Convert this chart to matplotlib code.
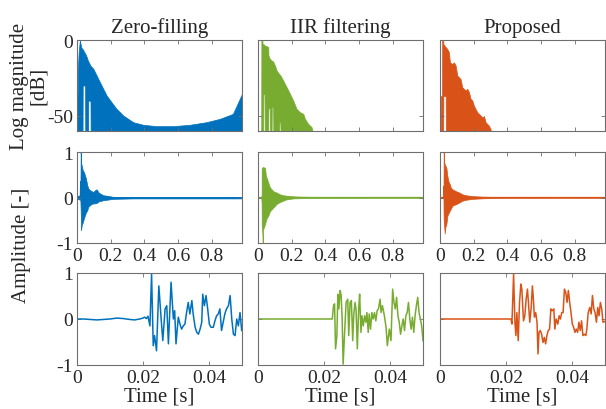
import numpy as np
import matplotlib
matplotlib.use("Agg")
import matplotlib.pyplot as plt

plt.rcParams['font.family'] = ['Liberation Serif', 'DejaVu Serif']
plt.rcParams['axes.unicode_minus'] = False

titles = ['Zero-filling', 'IIR filtering', 'Proposed']
colors = ['#0072BD', '#77AC30', '#D95319']

# ---- row 1: log magnitude envelope [dB] ----
zf_db_t = [0, 0.004, 0.005, 0.010, 0.017, 0.020, 0.026, 0.033, 0.034, 0.048, 0.049, 0.057, 0.066,
           0.067, 0.080, 0.081, 0.097, 0.117, 0.136, 0.156, 0.176, 0.205, 0.235, 0.275, 0.334,
           0.393, 0.472, 0.571, 0.670, 0.768, 0.848, 0.926, 0.98]
zf_db_hi = [-36, -36, -20, -8, 0, -2, -5, -6, -6, -9, -9, -11, -14, -14, -17, -17, -19, -23.5,
            -27.8, -32.2, -36.6, -41, -45.4, -49.8, -54.2, -55.9, -56.8, -56.8, -55.9, -54.2,
            -52, -48.7, -35.5]
zf_db_lo = [-60] * 8 + [-30] * 2 + [-60] * 3 + [-40] * 2 + [-60] * 18

iir_db_t = [0, 0.019, 0.020, 0.026, 0.027, 0.031, 0.032, 0.039, 0.040, 0.051, 0.061, 0.062,
            0.070, 0.071, 0.081, 0.082, 0.090, 0.091, 0.101, 0.111, 0.126, 0.127, 0.133, 0.134,
            0.150, 0.170, 0.190, 0.209, 0.229, 0.249, 0.269, 0.279, 0.298, 0.318, 0.324]
iir_db_hi = [-60, -60, 0, 0, -2.6, -2.6, -2.6, -3.5, -3.7, -4.0, -4.8, -10, -12.5, -12.5,
             -13.6, -13.6, -14, -14.5, -16.9, -20.2, -22.5, -22.6, -23.2, -23.5, -26.8, -31.1,
             -35.5, -39.9, -45.4, -47.6, -48.7, -52, -55.3, -57.4, -60]
iir_db_lo = ([-60] * 6 + [-35.5] * 2 + [-60] * 3 + [-45] * 2 + [-60] * 2 + [-44] * 2
             + [-60] * 4 + [-54] * 2 + [-60] * 12)

pr_db_t = [0, 0.004, 0.0045, 0.012, 0.013, 0.019, 0.020, 0.034, 0.035, 0.043, 0.053, 0.059,
           0.073, 0.083, 0.093, 0.103, 0.113, 0.122, 0.132, 0.142, 0.152, 0.162, 0.172, 0.182,
           0.192, 0.201, 0.211, 0.221, 0.231, 0.241, 0.251, 0.261, 0.271, 0.280, 0.290, 0.300,
           0.302]
pr_db_hi = [-60, -60, -37, -37, 0, 0, -2.6, -4.8, -4.8, -5.9, -8.1, -14.7, -15.8, -14.7,
            -16.9, -23.5, -24.6, -25.7, -31.1, -32.2, -33.3, -32.2, -34.4, -38.8, -39.9, -43.2,
            -45.4, -47.6, -48.7, -49.8, -50.9, -50.2, -54.2, -55.3, -56.4, -58.6, -60]
pr_db_lo = [-60] * 6 + [-37] * 2 + [-60] * 29

# ---- row 2: amplitude envelope over the whole response ----
zf_env_t = [0, 0.020, 0.022, 0.024, 0.028, 0.034, 0.041, 0.047, 0.053, 0.061, 0.067, 0.077,
            0.087, 0.097, 0.107, 0.117, 0.126, 0.136, 0.156, 0.176, 0.215, 0.334, 0.98]
zf_env_hi = [0.03, 0.05, 1.0, 0.75, 0.71, 0.60, 0.56, 0.49, 0.42, 0.27, 0.20, 0.16, 0.14,
             0.12, 0.16, 0.18, 0.12, 0.09, 0.05, 0.04, 0.015, 0.01, 0.01]
zf_env_lo = [-0.03, -0.05, -0.3, -0.72, -0.61, -0.55, -0.46, -0.39, -0.33, -0.28, -0.20,
             -0.17, -0.14, -0.13, -0.13, -0.12, -0.09, -0.08, -0.06, -0.05, -0.03, -0.02, -0.02]

iir_env_t = [0, 0.0215, 0.022, 0.026, 0.028, 0.030, 0.036, 0.042, 0.047, 0.051, 0.061, 0.071,
             0.081, 0.091, 0.101, 0.111, 0.130, 0.150, 0.170, 0.209, 0.249, 0.348, 0.98]
iir_env_hi = [0, 0, 0.64, 0.66, 0.67, 0.67, 0.66, 0.65, 0.47, 0.44, 0.33, 0.22, 0.18, 0.14,
              0.12, 0.11, 0.07, 0.05, 0.04, 0.025, 0.018, 0.01, 0.005]
iir_env_lo = [0, 0, -0.62, -0.8, -0.99, -0.7, -0.65, -0.58, -0.51, -0.46, -0.40, -0.30, -0.26,
              -0.22, -0.18, -0.14, -0.10, -0.07, -0.04, -0.02, -0.015, -0.01, -0.005]

pr_env_t = [0, 0.0205, 0.021, 0.022, 0.024, 0.028, 0.032, 0.038, 0.044, 0.050, 0.058, 0.064,
            0.074, 0.084, 0.094, 0.114, 0.133, 0.153, 0.173, 0.193, 0.252, 0.35, 0.98]
pr_env_hi = [0, 0, 0.3, 1.0, 0.8, 0.73, 0.70, 0.65, 0.47, 0.36, 0.29, 0.22, 0.18, 0.16, 0.14,
             0.11, 0.07, 0.05, 0.04, 0.03, 0.018, 0.01, 0.005]
pr_env_lo = [0, 0, -0.3, -0.51, -0.6, -0.79, -0.65, -0.58, -0.40, -0.35, -0.29, -0.25, -0.18,
             -0.16, -0.15, -0.11, -0.07, -0.05, -0.04, -0.03, -0.018, -0.01, -0.005]

# ---- row 3: first 50 ms of the impulse response ----
zf_t_ms = [0, 2, 4, 6, 8, 10, 12, 14, 16, 17.5, 19, 20, 20.5, 21, 21.5,
           22.1, 22.6, 23.1, 23.5, 24.1, 24.8, 25.5, 26.0, 26.7, 27.2, 27.7, 28.5, 29.2, 29.6,
           30.0, 30.7, 31.2, 31.7, 32.2, 32.7, 33.2, 33.7, 34.2, 34.8, 35.2, 35.8, 36.3, 36.8,
           37.3, 37.8, 38.1, 38.6, 39.1, 39.6, 40.1, 40.6, 41.3, 41.8, 42.3, 42.8, 43.3, 43.8,
           44.3, 44.8, 45.3, 45.9, 46.4, 46.9, 47.4, 47.9, 48.4, 48.9, 49.4, 49.9]
zf_amp = [0, 0.0, -0.01, -0.02, -0.01, 0.0, 0.02, 0.01, -0.01, -0.02, 0.0, 0.02, 0.04, 0.01, 0.06,
          -0.15, 0.98, -0.58, -0.36, -0.69, 0.72, 0, -0.47, 0.22, 0.29, -0.54, 0.80, 0, 0.18,
          -0.54, 0.04, -0.11, -0.22, -0.15, -0.11, 0.14, 0.36, 0.11, 0.40, 0.11, -0.18, -0.29,
          -0.33, -0.22, -0.07, 0.54, 0.29, 0.51, 0.22, -0.11, -0.18, -0.18, -0.04, 0.07, 0.11,
          0.22, -0.25, -0.07, 0.11, 0.22, 0.29, 0.51, 0, -0.33, -0.36, 0, -0.15, 0.14, -0.25]

iir_t_ms = [0, 22.5, 22.9, 23.2, 23.5, 23.9, 24.2, 24.5, 24.9, 25.2, 25.5, 25.8, 26.2, 26.7,
            27.2, 27.5, 27.9, 28.3, 28.7, 29.0, 29.4, 29.7, 30.1, 30.5, 30.8, 31.2, 31.5, 31.9,
            32.3, 32.7, 33.0, 33.4, 33.7, 34.1, 34.5, 34.9, 35.3, 35.7, 36.1, 36.5, 37.0, 37.3,
            37.7, 38.3, 38.8, 39.2, 39.8, 40.3, 40.8, 41.2, 41.6, 42.0, 42.4, 42.8, 43.2, 43.6,
            44.0, 44.4, 44.8, 45.2, 45.6, 46.0, 46.4, 46.8, 47.2, 47.6, 48.0, 48.4, 48.8, 49.2,
            49.6, 50.0]
iir_amp = [0, 0, 0.29, 0.33, -0.65, -0.36, 0.54, 0.22, 0.62, 0.51, 0, -0.98, -0.36, 0.36, 0.43,
           -0.36, 0.36, 0.40, -0.47, 0.07, 0.36, 0.22, -0.65, 0.22, 0.54, -0.29, 0.07, -0.15,
           0.07, -0.07, 0.14, -0.29, 0.11, -0.22, 0.14, 0, 0.14, -0.04, 0.18, 0.22, 0.43, 0.14,
           0.29, 0.07, -0.18, -0.58, -0.22, -0.47, 0.65, 0.36, 0.22, 0.47, 0.07, -0.07, -0.33,
           -0.15, 0, -0.25, 0.07, 0.14, 0.36, 0, -0.22, 0.04, -0.29, 0.07, 0.29, 0.47, 0.14, 0,
           -0.15, -0.47]

pr_t_ms = [0, 21.5, 21.8, 22.3, 22.7, 23.0, 23.3, 23.7, 24.1, 24.5, 24.8, 25.3, 25.7, 26.1,
           26.5, 26.8, 27.2, 27.6, 28.0, 28.3, 28.6, 29.0, 29.4, 29.7, 30.0, 30.4, 30.8, 31.2,
           31.6, 32.0, 32.4, 32.8, 33.2, 33.6, 34.0, 34.5, 34.8, 35.2, 35.7, 36.1, 36.5, 36.9,
           37.3, 37.7, 38.1, 38.5, 38.9, 39.3, 39.7, 40.1, 40.5, 40.9, 41.3, 41.7, 42.1, 42.5,
           42.9, 43.3, 43.7, 44.2, 44.5, 44.9, 45.4, 45.8, 46.2, 46.6, 47.0, 47.4, 47.8, 48.2,
           48.6, 49.0, 49.4, 50.0]
pr_amp = [0, 0, -0.11, 0.98, -0.07, -0.36, 0.14, -0.47, 0.36, 0.76, 0.65, -0.04, 0.07, 0.43,
          0.65, 0.36, -0.07, 0.22, 0.72, 0.43, 0.04, 0.14, -0.07, -0.76, -0.29, -0.25, -0.33,
          -0.51, -0.40, -0.54, -0.36, -0.25, -0.22, 0.22, 0.18, 0.22, -0.22, 0, -0.11, 0.07, 0,
          0.14, 0.14, 0.65, 0.58, 0.36, 0.62, 0.36, 0.14, -0.11, -0.18, -0.29, -0.22, -0.29,
          -0.07, -0.25, -0.04, -0.36, -0.33, -0.36, -0.22, 0.14, 0.25, 0.11, 0.51, 0.22, 0.14,
          -0.07, 0.25, 0.07, 0.36, 0.22, -0.07, -0.05]

db_data = [(zf_db_t, zf_db_hi, zf_db_lo), (iir_db_t, iir_db_hi, iir_db_lo),
           (pr_db_t, pr_db_hi, pr_db_lo)]
env_data = [(zf_env_t, zf_env_hi, zf_env_lo), (iir_env_t, iir_env_hi, iir_env_lo),
            (pr_env_t, pr_env_hi, pr_env_lo)]
early_data = [(zf_t_ms, zf_amp), (iir_t_ms, iir_amp), (pr_t_ms, pr_amp)]

# ====== layout ======
fig = plt.figure(figsize=(6.06, 4.10), dpi=100)
lefts = [77 / 606, 258 / 606, 440 / 606]
width = 165 / 606
rows = [(1 - 132 / 410, 91 / 410), (1 - 244 / 410, 91 / 410), (1 - 366 / 410, 92 / 410)]
frame_col = '#6e6e6e'
text_col = '#262626'


def style(ax):
    for s in ax.spines.values():
        s.set_color(frame_col)
        s.set_linewidth(0.8)
    ax.tick_params(direction='in', length=3, width=0.6, colors=frame_col,
                   labelcolor=text_col, labelsize=14, top=True, right=True, pad=3)


for c in range(3):
    col = colors[c]

    # row 1
    ax = fig.add_axes([lefts[c], rows[0][0], width, rows[0][1]])
    t, hi, lo = db_data[c]
    ax.fill_between(t, lo, hi, color=col, linewidth=0.5)
    ax.set_xlim(0, 0.98)
    ax.set_ylim(-60, 0)
    ax.set_xticks([0, 0.2, 0.4, 0.6, 0.8])
    ax.set_xticklabels([])
    ax.set_yticks([-50, 0])
    if c > 0:
        ax.set_yticklabels([])
    ax.set_title(titles[c], fontsize=15, color=text_col, pad=6)
    style(ax)

    # row 2
    ax = fig.add_axes([lefts[c], rows[1][0], width, rows[1][1]])
    t, hi, lo = env_data[c]
    ax.fill_between(t, lo, hi, color=col, linewidth=0.5)
    ax.plot(t, (np.array(hi) + np.array(lo)) / 2, color=col, linewidth=0.9)
    ax.set_xlim(0, 0.98)
    ax.set_ylim(-1, 1)
    ax.set_xticks([0, 0.2, 0.4, 0.6, 0.8])
    ax.set_xticklabels(['0', '0.2', '0.4', '0.6', '0.8'])
    ax.set_yticks([-1, 0, 1])
    if c > 0:
        ax.set_yticklabels([])
    style(ax)

    # row 3
    ax = fig.add_axes([lefts[c], rows[2][0], width, rows[2][1]])
    t_ms, amp = early_data[c]
    ax.plot(np.array(t_ms) / 1000, amp, color=col, linewidth=1.1)
    ax.set_xlim(0, 0.05)
    ax.set_ylim(-1, 1)
    ax.set_xticks([0, 0.02, 0.04])
    ax.set_xticklabels(['0', '0.02', '0.04'])
    ax.set_yticks([-1, 0, 1])
    if c > 0:
        ax.set_yticklabels([])
    ax.set_xlabel('Time [s]', fontsize=15, color=text_col, labelpad=0)
    style(ax)

fig.text(29 / 606, 1 - 86 / 410, 'Log magnitude\n[dB]', rotation=90, ha='center', va='center',
         fontsize=15, color=text_col, linespacing=1.0, multialignment='center')
fig.text(22 / 606, 1 - 245 / 410, 'Amplitude [-]', rotation=90, ha='center', va='center',
         fontsize=15, color=text_col)

fig.savefig('out.png', dpi=100)
